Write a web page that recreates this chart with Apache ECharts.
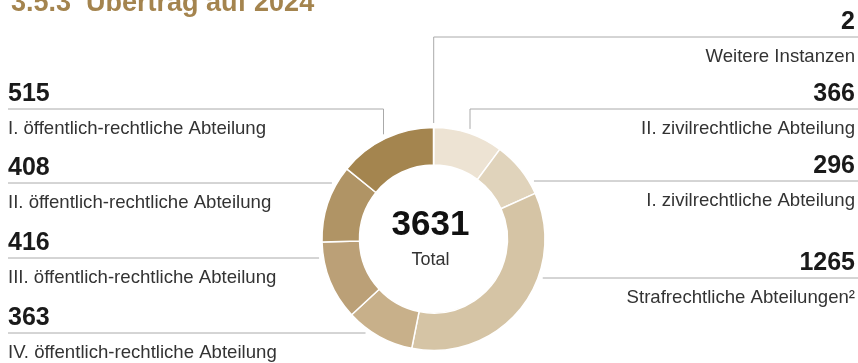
<!DOCTYPE html>
<html>
<head>
<meta charset="utf-8">
<script src="https://cdn.jsdelivr.net/npm/echarts@6/dist/echarts.min.js"></script>
<style>
html,body{margin:0;padding:0;background:#fff;}
#chart{width:858px;height:363px;}
</style>
</head>
<body>
<div id="chart"></div>
<script>
// ---- data ----
var categories = [
  'Weitere Instanzen',
  'II. zivilrechtliche Abteilung',
  'I. zivilrechtliche Abteilung',
  'Strafrechtliche Abteilungen\u00B2',
  'IV. öffentlich-rechtliche Abteilung',
  'III. öffentlich-rechtliche Abteilung',
  'II. öffentlich-rechtliche Abteilung',
  'I. öffentlich-rechtliche Abteilung'
];
var values = [2, 366, 296, 1265, 363, 416, 408, 515];
var totalLabel = 'Total';
var titleText = '3.5.3  Übertrag auf 2024';

// ---- layout / style ----
var colors = ['#f3ece1', '#ede3d3', '#e0d3bb', '#d5c4a5', '#c8b08a', '#bba077', '#b09465', '#a4854f'];
var side = ['right', 'right', 'right', 'right', 'left', 'left', 'left', 'left'];
var rowLineY = [37, 109, 181, 278, 333, 258, 183, 109]; // y of the rule under each value
var CX = 433.5, CY = 239, R0 = 74, R1 = 111.5, RL = 116;
var W = 858, LEFT_X = 8, RIGHT_X = 855;
var FONT = 'Liberation Sans, Arial, sans-serif';

var total = values.reduce(function (a, b) { return a + b; }, 0);

var chart = echarts.init(document.getElementById('chart'), null, { renderer: 'canvas' });

var data = categories.map(function (c, i) {
  return { name: c, value: values[i], itemStyle: { color: colors[i] } };
});

var VH = 30.5, NH = 39;

chart.setOption({
  animation: false,
  title: {
    text: titleText,
    left: 6,
    top: -15,
    textStyle: { fontFamily: FONT, fontSize: 27, fontWeight: 'bold', color: '#a4844e' }
  },
  graphic: [
    {
      type: 'text',
      x: CX - 3, y: CY - 14,
      style: {
        text: String(total),
        textAlign: 'center', textVerticalAlign: 'middle',
        font: 'bold 35px "Liberation Sans", Arial, sans-serif', fill: '#111'
      }
    },
    {
      type: 'text',
      x: CX - 3, y: CY + 21,
      style: {
        text: totalLabel,
        textAlign: 'center', textVerticalAlign: 'middle',
        font: '18px "Liberation Sans", Arial, sans-serif', fill: '#333'
      }
    }
  ],
  series: [{
    type: 'pie',
    center: [CX, CY],
    radius: [R0, R1],
    startAngle: 90,
    clockwise: true,
    avoidLabelOverlap: false,
    silent: true,
    itemStyle: { borderColor: '#fff', borderWidth: 1.5 },
    data: data,
    label: {
      show: true,
      formatter: function (p) { return '{v|' + p.value + '}\n{n|' + p.name + '}'; },
      fontFamily: FONT,
      rich: {
        v: { fontSize: 25, fontWeight: 'bold', color: '#1a1a1a', lineHeight: VH, fontFamily: FONT },
        n: { fontSize: 18.6, color: '#333', lineHeight: NH, fontFamily: FONT }
      }
    },
    labelLine: { show: true, lineStyle: { color: '#aaaaaa', width: 1 }, length: 10, length2: 10 },
    labelLayout: function (p) {
      var i = p.dataIndex;
      var L = rowLineY[i];
      var isRight = side[i] === 'right';
      var dy = L - CY;
      var pts;
      var edge = isRight ? W : LEFT_X;
      if (Math.abs(dy) < RL - 2) {
        var dx = Math.sqrt(RL * RL - dy * dy);
        var x = isRight ? CX + dx : CX - dx;
        pts = [[x, L], [x, L], [edge, L]];
      } else {
        var p0 = p.labelLinePoints[0];
        var ux = p0[0] - CX, uy = p0[1] - CY;
        var len = Math.sqrt(ux * ux + uy * uy);
        var sx = CX + ux / len * RL, sy = CY + uy / len * RL;
        pts = [[sx, sy], [sx, L], [edge, L]];
      }
      return {
        x: isRight ? RIGHT_X : LEFT_X,
        y: L - VH,
        align: isRight ? 'right' : 'left',
        verticalAlign: 'top',
        labelLinePoints: pts
      };
    }
  }]
});
</script>
</body>
</html>
